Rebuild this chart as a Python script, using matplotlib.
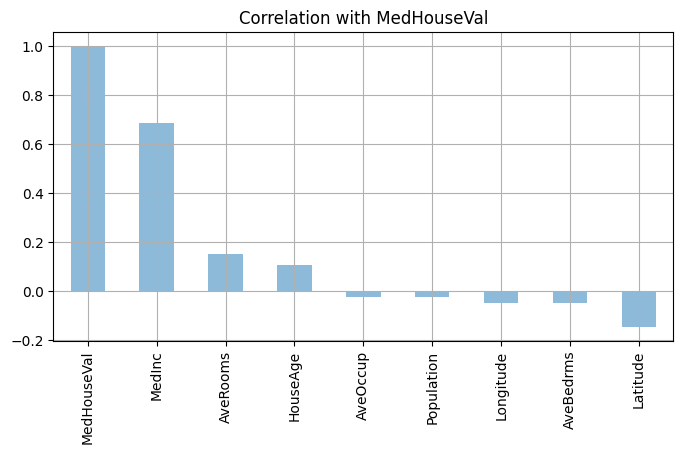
import matplotlib
matplotlib.use("Agg")
import matplotlib.pyplot as plt

features = ["MedHouseVal", "MedInc", "AveRooms", "HouseAge", "AveOccup",
            "Population", "Longitude", "AveBedrms", "Latitude"]
correlations = [1.0, 0.688075, 0.151948, 0.105623, -0.023737,
                -0.024650, -0.045967, -0.046701, -0.144160]

fig = plt.figure(figsize=(6.83, 4.53), dpi=100)
ax = fig.add_axes([0.078, 0.248, 0.908, 0.681])
x = range(len(features))
ax.bar(x, correlations, width=0.5, color="#1f77b4", alpha=0.5)
ax.set_xticks(list(x))
ax.set_xticklabels(features, rotation=90)
ax.set_xlim(-0.5, len(features) - 0.5)
ax.grid(True)
ax.set_title("Correlation with MedHouseVal")
fig.savefig("out.png", dpi=100)
